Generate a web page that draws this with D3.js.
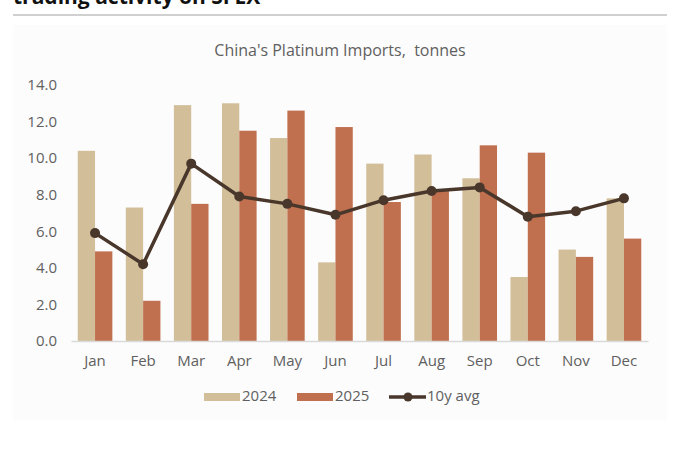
<!DOCTYPE html>
<html>
<head>
<meta charset="utf-8">
<script src="https://cdn.jsdelivr.net/npm/d3@7"></script>
<style>
  body { margin: 0; background: #fff; }
  text { font-family: "Open Sans", "Noto Sans", sans-serif; }
</style>
</head>
<body>
<div id="chart"></div>
<script>
// chart values
var months = ["Jan", "Feb", "Mar", "Apr", "May", "Jun", "Jul", "Aug", "Sep", "Oct", "Nov", "Dec"];
var imports2024 = [10.4, 7.3, 12.9, 13.0, 11.1, 4.3, 9.7, 10.2, 8.9, 3.5, 5.0, 7.8];
var imports2025 = [4.9, 2.2, 7.5, 11.5, 12.6, 11.7, 7.6, 8.2, 10.7, 10.3, 4.6, 5.6];
var avg10y = [5.9, 4.2, 9.7, 7.9, 7.5, 6.9, 7.7, 8.2, 8.4, 6.8, 7.1, 7.8];
var yTicks = [0, 2, 4, 6, 8, 10, 12, 14];
var seriesNames = ["2024", "2025"];

var W = 683, H = 455;
var colors = { "2024": "#d2bf9a", "2025": "#c0704f", avg: "#4a372b" };
var textColor = "#606060";
var labelSize = "15px";

var svg = d3.select("#chart")
  .append("svg")
  .attr("width", W)
  .attr("height", H);

// cut-off heading from the page above
svg.append("text")
  .attr("x", 13)
  .attr("y", 4)
  .style("font-weight", "bold")
  .style("font-size", "21px")
  .attr("fill", "#111")
  .text("trading activity on SFEX");

svg.append("rect")
  .attr("x", 13).attr("y", 14)
  .attr("width", 654).attr("height", 2)
  .attr("fill", "#d0d0d0");

// chart panel
svg.append("rect")
  .attr("x", 13).attr("y", 25)
  .attr("width", 654).attr("height", 395)
  .attr("fill", "#fcfcfc");

svg.append("text")
  .attr("x", 340)
  .attr("y", 52)
  .attr("text-anchor", "middle")
  .attr("dominant-baseline", "middle")
  .style("font-size", "16px")
  .attr("fill", textColor)
  .text("China's Platinum Imports,\u00a0 tonnes");

var plot = { left: 71, right: 648, top: 85, bottom: 341 };

var x = d3.scaleBand()
  .domain(months)
  .range([plot.left, plot.right])
  .paddingInner(0.28)
  .paddingOuter(0.14);

var xSub = d3.scaleBand()
  .domain(seriesNames)
  .range([0, x.bandwidth()]);

var y = d3.scaleLinear()
  .domain([0, 14])
  .range([plot.bottom, plot.top]);

// y axis labels
var yaxis = svg.append("g")
  .attr("transform", `translate(${plot.left}, 0)`)
  .call(d3.axisLeft(y).tickValues(yTicks).tickFormat(d3.format(".1f")).tickSize(0).tickPadding(14));
yaxis.select(".domain").remove();
yaxis.selectAll("text")
  .style("font-size", labelSize)
  .style("font-family", "'Open Sans', sans-serif")
  .attr("fill", textColor);

// bars
var rows = months.map((m, i) => ({ month: m, "2024": imports2024[i], "2025": imports2025[i] }));

svg.append("g")
  .selectAll("g")
  .data(rows)
  .join("g")
  .attr("transform", d => `translate(${x(d.month)},0)`)
  .selectAll("rect")
  .data(d => seriesNames.map(s => ({ key: s, value: d[s] })))
  .join("rect")
  .attr("x", d => xSub(d.key))
  .attr("y", d => y(d.value))
  .attr("width", xSub.bandwidth())
  .attr("height", d => y(0) - y(d.value))
  .attr("fill", d => colors[d.key]);

// x axis
var xaxis = svg.append("g")
  .attr("transform", `translate(0, ${plot.bottom})`)
  .call(d3.axisBottom(x).tickSize(0).tickPadding(14));
xaxis.select(".domain").attr("stroke", "#d9d9d9").attr("stroke-width", 1.5);
xaxis.selectAll("text")
  .style("font-size", labelSize)
  .style("font-family", "'Open Sans', sans-serif")
  .attr("fill", textColor);

// 10y average line
var avgPts = months.map((m, i) => ({ month: m, value: avg10y[i] }));
var line = d3.line()
  .x(d => x(d.month) + x.bandwidth() / 2)
  .y(d => y(d.value));

svg.append("path")
  .datum(avgPts)
  .attr("d", line)
  .attr("fill", "none")
  .attr("stroke", colors.avg)
  .attr("stroke-width", 3.5)
  .attr("stroke-linejoin", "round");

svg.selectAll(".avgdot")
  .data(avgPts)
  .join("circle")
  .attr("class", "avgdot")
  .attr("cx", d => x(d.month) + x.bandwidth() / 2)
  .attr("cy", d => y(d.value))
  .attr("r", 5)
  .attr("fill", colors.avg);

// legend
var legendY = 397;
var legend = svg.append("g");
[{ name: "2024", x: 204 }, { name: "2025", x: 297 }].forEach(item => {
  legend.append("rect")
    .attr("x", item.x).attr("y", legendY - 4)
    .attr("width", 36).attr("height", 8)
    .attr("fill", colors[item.name]);
  legend.append("text")
    .attr("x", item.x + 38).attr("y", legendY)
    .attr("dominant-baseline", "middle")
    .style("font-size", labelSize)
    .attr("fill", textColor)
    .text(item.name);
});
legend.append("line")
  .attr("x1", 389).attr("x2", 426)
  .attr("y1", legendY).attr("y2", legendY)
  .attr("stroke", colors.avg).attr("stroke-width", 3.5);
legend.append("circle")
  .attr("cx", 408).attr("cy", legendY).attr("r", 4.5)
  .attr("fill", colors.avg);
legend.append("text")
  .attr("x", 427).attr("y", legendY)
  .attr("dominant-baseline", "middle")
  .style("font-size", labelSize)
  .attr("fill", textColor)
  .text("10y avg");
</script>
</body>
</html>
